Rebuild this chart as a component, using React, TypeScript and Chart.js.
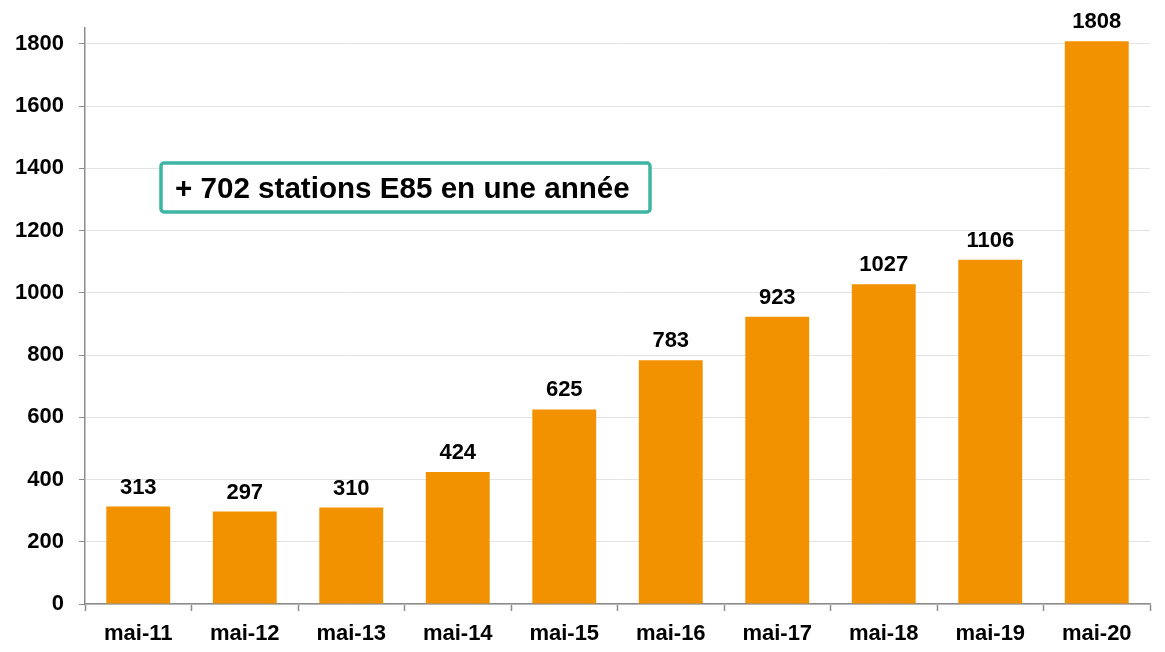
import React, { useEffect, useRef } from "react";
import { Chart, registerables } from "chart.js";

Chart.register(...registerables);

const categories = ["mai-11", "mai-12", "mai-13", "mai-14", "mai-15", "mai-16", "mai-17", "mai-18", "mai-19", "mai-20"];
const stations = [313, 297, 310, 424, 625, 783, 923, 1027, 1106, 1808];
const yTicks = [0, 200, 400, 600, 800, 1000, 1200, 1400, 1600, 1800];
const annotationText = "+ 702 stations E85 en une année";

const FONT = "'Liberation Sans', Arial, sans-serif";

const labelsPlugin = {
  id: "barLabels",
  afterDatasetsDraw(chart: any) {
    const ctx = chart.ctx;
    const meta = chart.getDatasetMeta(0);
    ctx.save();
    ctx.font = `bold 22px ${FONT}`;
    ctx.fillStyle = "#000";
    ctx.textAlign = "center";
    ctx.textBaseline = "alphabetic";
    meta.data.forEach((bar: any, i: number) => {
      ctx.fillText(String(stations[i]), bar.x, bar.y - 13);
    });
    ctx.restore();
  },
};

const boxPlugin = {
  id: "annotBox",
  afterDraw(chart: any) {
    const ctx = chart.ctx;
    ctx.save();
    const x = 161, y = 163, w = 489, h = 49, r = 3;
    ctx.fillStyle = "#fff";
    ctx.strokeStyle = "#3DB5A2";
    ctx.lineWidth = 3.5;
    ctx.beginPath();
    ctx.roundRect(x, y, w, h, r);
    ctx.fill();
    ctx.stroke();
    ctx.font = `bold 29.6px ${FONT}`;
    ctx.fillStyle = "#000";
    ctx.textAlign = "left";
    ctx.textBaseline = "alphabetic";
    ctx.fillText(annotationText, x + 14, y + 35);
    ctx.restore();
  },
};

export default function App() {
  const ref = useRef<HTMLCanvasElement>(null);
  useEffect(() => {
    const chart = new Chart(ref.current!, {
      type: "bar",
      data: {
        labels: categories,
        datasets: [
          {
            data: stations,
            backgroundColor: "#F39200",
            barPercentage: 0.6,
            categoryPercentage: 1,
          },
        ],
      },
      options: {
        animation: false,
        responsive: false,
        layout: { padding: { top: 27, right: 15, left: 0, bottom: 0 } },
        plugins: { legend: { display: false }, tooltip: { enabled: false } },
        scales: {
          x: {
            grid: {
              offset: true,
              drawOnChartArea: false,
              tickLength: 7,
              tickColor: "#8c8c8c",
              tickWidth: 1.5,
            },
            border: { color: "#8c8c8c", width: 1.5 },
            ticks: { color: "#000", font: { family: FONT, size: 22, weight: "bold" }, padding: 10 },
            afterFit: (s: any) => { s.height = 48; },
          },
          y: {
            min: 0,
            max: 1850,
            afterBuildTicks: (s: any) => { s.ticks = yTicks.map((v) => ({ value: v })); },
            grid: {
              color: "#e3e3e3",
              tickColor: "#8c8c8c",
              tickLength: 6,
              lineWidth: 1,
            },
            border: { color: "#8c8c8c", width: 1.5 },
            ticks: {
              color: "#000",
              font: { family: FONT, size: 22, weight: "bold" },
              padding: 15,
              autoSkip: false,
              callback: (v: any) => String(v),
            },
            afterFit: (s: any) => { s.width = 85; },
          },
        },
      },
      plugins: [labelsPlugin, boxPlugin],
    });
    return () => chart.destroy();
  }, []);
  return (
    <div style={{ position: "fixed", left: 0, top: 0, width: 1165, height: 652, background: "#fff" }}>
      <canvas ref={ref} width={1165} height={652} style={{ width: 1165, height: 652 }} />
    </div>
  );
}
